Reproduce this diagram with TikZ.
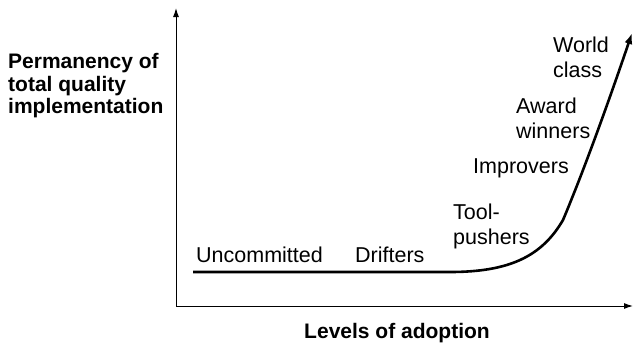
\documentclass[tikz,border=0pt]{standalone}
\usepackage{fontspec}
\setmainfont{Liberation Sans}
\usetikzlibrary{arrows.meta}
\begin{document}
\begin{tikzpicture}[x=1pt,y=-1pt,
  lbl/.style={inner sep=0pt,font=\fontsize{21.5}{25}\selectfont,align=left},
  axislbl/.style={inner sep=0pt,font=\fontsize{21}{22.5}\selectfont\bfseries,align=left},
  axis/.style={line width=1pt,-{Latex[length=9pt,width=6pt]}},
  curve/.style={line width=2.6pt,-{Latex[length=11pt,width=8pt]}}]
\useasboundingbox (0,0) rectangle (633,346);
% axes
\coordinate (o) at (176,306);
\coordinate (ytop) at (176,8);
\coordinate (xend) at (633,306);
\draw[axis] (o) -- (ytop);
\draw[axis] (o) -- (xend);
% adoption curve
\coordinate (c0) at (193,272);
\coordinate (c1) at (450,272);
\coordinate (c2) at (563,220);
\coordinate (c3) at (632,33);
\draw[curve] (c0) -- (c1) .. controls (510,272) and (542,256) .. (c2)
  .. controls (585,168) and (612,92) .. (c3);
% stage labels
\node[lbl,anchor=west] (unc) at (196,255) {Uncommitted};
\node[lbl,anchor=west] (dri) at (355,255) {Drifters};
\node[lbl,anchor=west] (tool) at (453,226) {Tool-\\pushers};
\node[lbl,anchor=west] (imp) at (473,168) {Improvers};
\node[lbl,anchor=west] (awd) at (516,118) {Award\\winners};
\node[lbl,anchor=west] (wld) at (553,57) {World\\class};
% axis titles
\node[axislbl,anchor=west] (ylab) at (8,86) {Permanency of\\total quality\\implementation};
\node[axislbl] (xlab) at (397,333) {Levels of adoption};
\end{tikzpicture}
\end{document}
